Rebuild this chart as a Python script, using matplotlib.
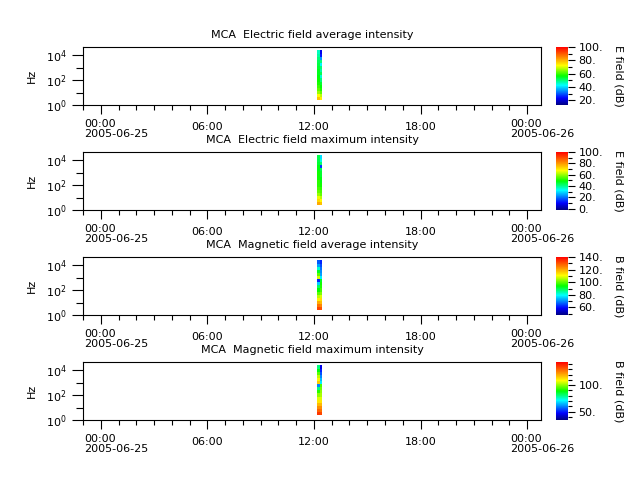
import datetime as dt
import numpy as np
import matplotlib
matplotlib.use("Agg")
import matplotlib.pyplot as plt
import matplotlib.dates as mdates
from matplotlib.colors import LinearSegmentedColormap
from matplotlib.ticker import FixedLocator, FuncFormatter, MultipleLocator

# ---------------- data ----------------
time_edges = [dt.datetime(2005, 6, 25, 12, 12), dt.datetime(2005, 6, 25, 12, 20),
              dt.datetime(2005, 6, 25, 12, 28)]
freq_channels = [3.16, 5.62, 10.0, 17.8, 31.6, 56.2, 100.0, 178.0, 316.0, 562.0,
                 1000.0, 1780.0, 3160.0, 5620.0, 10000.0, 17800.0]

# values per time column, low -> high frequency (dB)
e_avg_col1 = [78, 72, 66, 62, 60, 58, 57, 56, 55, 55, 54, 53, 52, 50, 48, 46]
e_avg_col2 = [74, 68, 62, 58, 56, 54, 50, 45, 52, 48, 50, 42, 50, 35, 25, 22]
e_max_col1 = [78, 72, 66, 60, 56, 54, 52, 52, 50, 50, 50, 48, 48, 46, 45, 44]
e_max_col2 = [75, 68, 62, 56, 54, 52, 50, 48, 48, 46, 46, 44, 15, 42, 35, 30]
b_avg_col1 = [132, 126, 120, 112, 106, 100, 94, 88, 75, 62, 108, 100, 92, 82, 72, 66]
b_avg_col2 = [130, 124, 118, 114, 108, 102, 98, 96, 95, 92, 78, 72, 70, 68, 65, 62]
b_max_col1 = [136, 130, 124, 118, 112, 106, 100, 92, 80, 60, 116, 110, 104, 96, 88, 80]
b_max_col2 = [134, 128, 124, 118, 112, 106, 102, 100, 98, 95, 70, 65, 60, 55, 50, 45]

titles = ["MCA  Electric field average intensity", "MCA  Electric field maximum intensity",
          "MCA  Magnetic field average intensity", "MCA  Magnetic field maximum intensity"]
cbar_labels = ["E field (dB)", "E field (dB)", "B field (dB)", "B field (dB)"]
vranges = [(13, 100), (-2, 100), (48, 140), (34, 144)]
cbar_major = [20, 20, 20, 50]
cbar_minor = [10, 10, 10, 10]
day_labels = ["00:00\n2005-06-25", "00:00\n2005-06-26"]
panel_values = [(e_avg_col1, e_avg_col2), (e_max_col1, e_max_col2),
                (b_avg_col1, b_avg_col2), (b_max_col1, b_max_col2)]

# ---------------- style ----------------
cmap = LinearSegmentedColormap.from_list(
    "rainbow_idl",
    [(0.0, (0.0, 0.0, 0.5)), (0.12, (0.0, 0.0, 1.0)), (0.34, (0.0, 1.0, 1.0)),
     (0.5, (0.0, 1.0, 0.0)), (0.68, (1.0, 1.0, 0.0)), (0.82, (1.0, 0.55, 0.0)),
     (1.0, (1.0, 0.0, 0.0))])

plt.rcParams['font.family'] = ['DejaVu Sans']
plt.rcParams['font.size'] = 8

fig = plt.figure(figsize=(6.4, 4.8), dpi=100)

W, H = 640.0, 480.0
ax_left, ax_right = 83, 541
panel_tops = [47, 152, 257, 362]
panel_h = 58
cb_left, cb_w = 556, 12

fch = np.array(freq_channels)
logc = np.log10(fch)
step = logc[1] - logc[0]
freq_edges = 10 ** np.concatenate([logc - step / 2, [logc[-1] + step / 2]])
tnum = mdates.date2num(time_edges)

xmin = dt.datetime(2005, 6, 24, 23, 0)
xmax = dt.datetime(2005, 6, 26, 0, 47)
day_ticks = [dt.datetime(2005, 6, 25, 0, 0), dt.datetime(2005, 6, 26, 0, 0)]


def time_fmt(v, p):
    d = mdates.num2date(v)
    if d.hour == 0 and d.minute == 0:
        return ""
    return d.strftime("%H:%M")


for i in range(4):
    top = panel_tops[i]
    ax = fig.add_axes([ax_left / W, 1 - (top + panel_h) / H,
                       (ax_right - ax_left) / W, panel_h / H])
    cax = fig.add_axes([cb_left / W, 1 - (top + panel_h) / H, cb_w / W, panel_h / H])
    c1, c2 = panel_values[i]
    Z = np.array([c1, c2]).T
    vmin, vmax = vranges[i]
    mesh = ax.pcolormesh(tnum, freq_edges, Z, cmap=cmap, vmin=vmin, vmax=vmax,
                         shading='flat')
    ax.set_yscale('log')
    ax.set_ylim(1, 10 ** 4.65)
    ax.yaxis.set_major_locator(FixedLocator([1, 100, 10000]))
    ax.yaxis.set_minor_locator(FixedLocator([10, 1000]))
    ax.yaxis.set_major_formatter(FuncFormatter(lambda v, p: r"$10^{%d}$" % round(np.log10(v))))
    ax.yaxis.set_minor_formatter(FuncFormatter(lambda v, p: ""))
    ax.set_ylabel("Hz", fontsize=8, labelpad=6)

    ax.set_xlim(xmin, xmax)
    ax.xaxis.set_major_locator(mdates.HourLocator(byhour=[0, 6, 12, 18]))
    ax.xaxis.set_minor_locator(mdates.HourLocator())
    ax.xaxis.set_major_formatter(FuncFormatter(time_fmt))
    ax.tick_params(axis='x', which='major', direction='out', length=6.5, width=0.8,
                   labelsize=8, pad=6)
    ax.tick_params(axis='x', which='minor', direction='out', length=3.3, width=0.8)
    ax.tick_params(axis='y', which='major', direction='out', length=8, width=0.8,
                   labelsize=8, pad=4)
    ax.tick_params(axis='y', which='minor', direction='out', length=5, width=0.8)
    for s in ax.spines.values():
        s.set_linewidth(0.8)

    for tk, lab in zip(day_ticks, day_labels):
        ax.annotate(lab, xy=(mdates.date2num(tk), 0), xycoords=ax.get_xaxis_transform(),
                    xytext=(-17, -14), textcoords='offset pixels', ha='left', va='top',
                    multialignment='left', linespacing=0.95, fontsize=8,
                    annotation_clip=False)

    ax.set_title(titles[i], fontsize=8, pad=6.5)

    cb = fig.colorbar(mesh, cax=cax)
    cb.outline.set_visible(False)
    cb.set_ticks(np.arange(np.ceil(vmin / cbar_major[i]) * cbar_major[i], vmax + 0.1,
                           cbar_major[i]))
    cb.ax.yaxis.set_major_formatter(FuncFormatter(lambda v, p: "%d." % round(v)))
    cb.ax.yaxis.set_minor_locator(MultipleLocator(cbar_minor[i]))
    cb.ax.tick_params(which='major', length=5, width=0.8, labelsize=8, pad=2.5)
    cb.ax.tick_params(which='minor', length=3, width=0.8)
    cb.set_label(cbar_labels[i], rotation=270, fontsize=8, labelpad=15)

fig.savefig("out.png", dpi=100)
